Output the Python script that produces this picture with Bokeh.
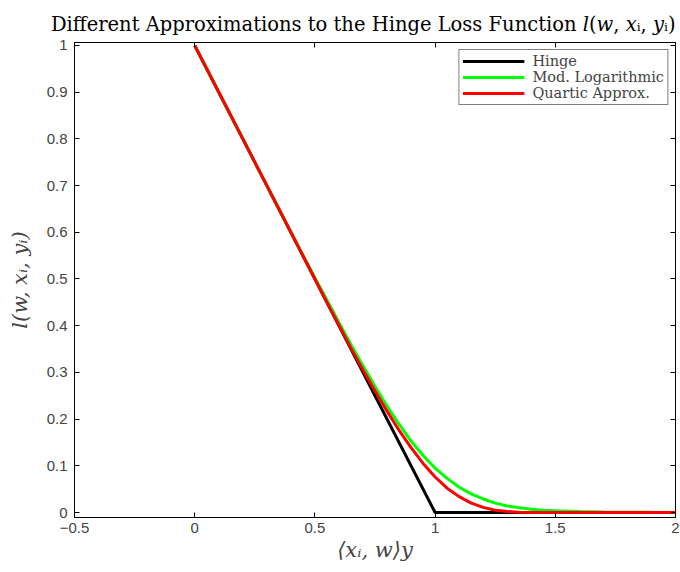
from bokeh.plotting import figure
from bokeh.models import Range1d, LinearAxis, FixedTicker, CustomJSTickFormatter
from bokeh.embed import file_html
from bokeh.resources import INLINE

# ---- data ----
x_hinge = [0.0, 1.0, 2.0]
y_hinge = [1.0, 0.0, 0.0]

x_smooth = [0.0, 0.1, 0.2, 0.3, 0.4, 0.5, 0.55, 0.6, 0.65, 0.7, 0.75, 0.8, 0.85,
            0.9, 0.95, 1.0, 1.05, 1.1, 1.15, 1.2, 1.25, 1.3, 1.35, 1.4, 1.45,
            1.5, 1.6, 1.7, 1.8, 1.9, 2.0]
y_modlog = [1.0, 0.9, 0.8, 0.7, 0.6, 0.503, 0.455, 0.407, 0.36, 0.314, 0.27,
            0.228, 0.189, 0.153, 0.122, 0.095, 0.073, 0.054, 0.04, 0.029, 0.02,
            0.014, 0.01, 0.007, 0.005, 0.0035, 0.002, 0.001, 0.0005, 0.0003, 0.0002]
y_quartic = [1.0, 0.9, 0.8, 0.7, 0.6, 0.5, 0.45, 0.401, 0.352, 0.305, 0.26,
             0.217, 0.176, 0.139, 0.105, 0.076, 0.052, 0.034, 0.02, 0.011,
             0.005, 0.002, 0.0005, 0.0, 0.0, 0.0, 0.0, 0.0, 0.0, 0.0, 0.0]

series_names = ["Hinge", "Mod. Logarithmic", "Quartic Approx."]
series_colors = ["#000000", "#00ff00", "#ff0000"]

x_ticks = [-0.5, 0.0, 0.5, 1.0, 1.5, 2.0]
x_tick_labels = ["\u22120.5", "0", "0.5", "1", "1.5", "2"]
y_ticks = [0.0, 0.1, 0.2, 0.3, 0.4, 0.5, 0.6, 0.7, 0.8, 0.9, 1.0]
y_tick_labels = ["0", "0.1", "0.2", "0.3", "0.4", "0.5", "0.6", "0.7", "0.8", "0.9", "1"]

title_text = ("Different Approximations to the Hinge Loss Function "
              "\U0001d459(\U0001d464, \U0001d465\u1d62, \U0001d466\u1d62)")
x_label = "\u27e8x\u1d62, w\u27e9y"
y_label = "l(w, x\u1d62, y\u1d62)"

SERIF = "DejaVu Serif"
SANS = "Liberation Sans"

p = figure(width=680, height=572, output_backend="svg", toolbar_location=None,
           x_range=Range1d(-0.5, 2.0), y_range=Range1d(-0.0107, 1.0064),
           min_border_left=74, min_border_right=5, min_border_top=42,
           min_border_bottom=55)
p.xgrid.visible = False
p.ygrid.visible = False
p.outline_line_color = "black"
p.outline_line_alpha = 1.0
p.background_fill_color = "white"
p.border_fill_color = "white"

p.title.text = title_text
p.title.text_font = SERIF
p.title.text_font_style = "normal"
p.title.text_font_size = "19.5px"
p.title.text_color = "black"
p.title.align = "right"
p.title.standoff = 13

p.line(x_hinge, y_hinge, color=series_colors[0], line_width=3, legend_label=series_names[0])
p.line(x_smooth, y_modlog, color=series_colors[1], line_width=3, legend_label=series_names[1])
p.line(x_smooth, y_quartic, color=series_colors[2], line_width=3, legend_label=series_names[2])

def style_axis(ax, ticks):
    ax.ticker = FixedTicker(ticks=ticks)
    ax.axis_line_color = "black"
    ax.major_tick_line_color = "black"
    ax.major_tick_in = 5
    ax.major_tick_out = 0
    ax.minor_tick_line_color = None

xa = p.xaxis[0]
style_axis(xa, x_ticks)
xa.major_label_overrides = {t: s for t, s in zip(x_ticks, x_tick_labels)}
xa.major_label_text_font = SANS
xa.major_label_text_font_size = "15px"
xa.major_label_standoff = 5
xa.axis_label = x_label
xa.axis_label_text_font = SERIF
xa.axis_label_text_font_style = "italic"
xa.axis_label_text_font_size = "21px"
xa.axis_label_standoff = 2

ya = p.yaxis[0]
style_axis(ya, y_ticks)
ya.major_label_overrides = {t: s for t, s in zip(y_ticks, y_tick_labels)}
ya.major_label_text_font = SANS
ya.major_label_text_font_size = "15px"
ya.major_label_standoff = 7
ya.axis_label = y_label
ya.axis_label_text_font = SERIF
ya.axis_label_text_font_style = "italic"
ya.axis_label_text_font_size = "21px"
ya.axis_label_standoff = 12

empty = CustomJSTickFormatter(code="return ''")
top = LinearAxis(formatter=empty, major_label_standoff=0)
style_axis(top, x_ticks)
right = LinearAxis(formatter=empty, major_label_standoff=0)
style_axis(right, y_ticks)
p.add_layout(top, "above")
p.add_layout(right, "right")

lg = p.legend[0]
lg.location = "top_right"
lg.margin = 7
lg.border_line_color = "black"
lg.border_line_width = 1
lg.background_fill_color = "white"
lg.background_fill_alpha = 1.0
lg.label_text_font = SERIF
lg.label_text_font_size = "14.5px"
lg.glyph_width = 62
lg.glyph_height = 16
lg.label_height = 16
lg.label_standoff = 8
lg.spacing = 0
lg.padding = 3

open("out.html", "w").write(file_html(p, INLINE))
